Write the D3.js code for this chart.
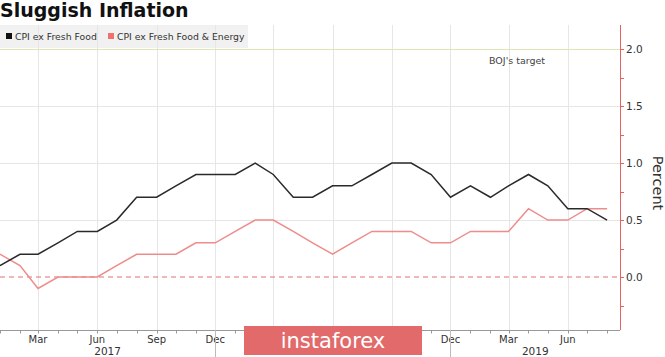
<!DOCTYPE html>
<html>
<head>
<meta charset="utf-8">
<script src="https://cdn.jsdelivr.net/npm/d3@7"></script>
<style>
  html, body { margin: 0; padding: 0; background: #fff; }
  svg { display: block; }
  text { font-family: "DejaVu Sans", sans-serif; }
</style>
</head>
<body>
<svg id="chart" width="665" height="357"></svg>
<script>
// ---- data ----
const months = [
  "2017-01","2017-02","2017-03","2017-04","2017-05","2017-06","2017-07","2017-08","2017-09","2017-10","2017-11","2017-12",
  "2018-01","2018-02","2018-03","2018-04","2018-05","2018-06","2018-07","2018-08","2018-09","2018-10","2018-11","2018-12",
  "2019-01","2019-02","2019-03","2019-04","2019-05","2019-06","2019-07","2019-08"
];
const cpiExFresh = [0.1,0.2,0.2,0.3,0.4,0.4,0.5,0.7,0.7,0.8,0.9,0.9,
                    0.9,1.0,0.9,0.7,0.7,0.8,0.8,0.9,1.0,1.0,0.9,0.7,
                    0.8,0.7,0.8,0.9,0.8,0.6,0.6,0.5];
const cpiExFreshEnergy = [0.2,0.1,-0.1,0.0,0.0,0.0,0.1,0.2,0.2,0.2,0.3,0.3,
                          0.4,0.5,0.5,0.4,0.3,0.2,0.3,0.4,0.4,0.4,0.3,0.3,
                          0.4,0.4,0.4,0.6,0.5,0.5,0.6,0.6];
const seriesNames = ["CPI ex Fresh Food", "CPI ex Fresh Food & Energy"];
const yTicks = [0.0, 0.5, 1.0, 1.5, 2.0];
const yMinorTicks = [-0.25, 0.25, 0.75, 1.25, 1.75];
const years = ["2017", "2018", "2019"];
const bojTarget = 2.0;
const titleText = "Sluggish Inflation";

(function () {
// ---- layout ----
const svg = d3.select("#chart");
const parse = d3.timeParse("%Y-%m");
const dates = months.map(parse);
const pL = 0, pR = 620, pT = 25, pB = 330;
const wmX0 = 244, wmX1 = 422; // watermark horizontal span

const x = d3.scaleTime()
  .domain([parse("2017-01"), new Date(2019, 7, 21)])
  .range([pL, pR]);
const y = d3.scaleLinear().domain([-0.465, 2.212]).range([pB, pT]);

// legend background
svg.append("rect").attr("x", 0).attr("y", 25).attr("width", 248).attr("height", 23).attr("fill", "#f1f1f1");

// vertical grid (quarterly)
const quarterTicks = x.ticks(d3.timeMonth.every(1)).filter(d => [2,5,8,11].includes(d.getMonth()));
svg.append("g").selectAll("line").data(quarterTicks).join("line")
  .attr("x1", d => Math.round(x(d)) + 0.5).attr("x2", d => Math.round(x(d)) + 0.5)
  .attr("y1", pT).attr("y2", pB)
  .attr("stroke", "#e6e6e6").attr("stroke-width", 1);

// horizontal grid
svg.append("g").selectAll("line").data([0.5, 1.0, 1.5]).join("line")
  .attr("x1", pL).attr("x2", pR)
  .attr("y1", d => Math.round(y(d)) + 0.5).attr("y2", d => Math.round(y(d)) + 0.5)
  .attr("stroke", "#e6e6e6").attr("stroke-width", 1);

// BOJ target line
svg.append("line")
  .attr("x1", pL).attr("x2", pR)
  .attr("y1", Math.round(y(bojTarget)) + 0.5).attr("y2", Math.round(y(bojTarget)) + 0.5)
  .attr("stroke", "#dfe6b4").attr("stroke-width", 1);
svg.append("text").attr("x", 489).attr("y", 64)
  .attr("font-size", 9.5).attr("fill", "#444").text("BOJ's target");

// zero dashed line
svg.append("line")
  .attr("x1", pL).attr("x2", pR)
  .attr("y1", y(0)).attr("y2", y(0))
  .attr("stroke", "#e07070").attr("stroke-width", 1.1).attr("stroke-dasharray", "5,4");

// legend
const legendItems = [
  {name: seriesNames[0], color: "#111", sx: 6, tx: 15},
  {name: seriesNames[1], color: "#f07070", sx: 108, tx: 117}
];
legendItems.forEach(it => {
  svg.append("rect").attr("x", it.sx).attr("y", 33).attr("width", 6).attr("height", 6).attr("fill", it.color);
  svg.append("text").attr("x", it.tx).attr("y", 40).attr("font-size", 9.3).attr("fill", "#333").text(it.name);
});

// title
svg.append("text").attr("x", 0).attr("y", 17)
  .attr("font-size", 19).attr("font-weight", "bold").attr("fill", "#111").text(titleText);

// lines
const line = d3.line().x((d, i) => x(dates[i])).y(d => y(d));
svg.append("path").datum(cpiExFreshEnergy).attr("d", line)
  .attr("fill", "none").attr("stroke", "#ee8c8c").attr("stroke-width", 1.5);
svg.append("path").datum(cpiExFresh).attr("d", line)
  .attr("fill", "none").attr("stroke", "#2a2a2a").attr("stroke-width", 1.5);

// x axis
svg.append("line").attr("x1", pL).attr("x2", pR).attr("y1", pB + 0.5).attr("y2", pB + 0.5)
  .attr("stroke", "#999");
const monthTicks = x.ticks(d3.timeMonth.every(1));
svg.append("g").selectAll("line").data(monthTicks).join("line")
  .attr("x1", d => Math.round(x(d)) + 0.5).attr("x2", d => Math.round(x(d)) + 0.5)
  .attr("y1", pB).attr("y2", pB + 3.5)
  .attr("stroke", "#999");
const fmt = d3.timeFormat("%b");
const hidden = px => px > wmX0 - 12 && px < wmX1 + 12;
svg.append("g").selectAll("text").data(quarterTicks.filter(d => !hidden(x(d)))).join("text")
  .attr("x", d => x(d)).attr("y", 343)
  .attr("text-anchor", "middle").attr("font-size", 10).attr("fill", "#333")
  .text(d => fmt(d));
// year separators (at Dec ticks)
const decTicks = quarterTicks.filter(d => d.getMonth() === 11);
svg.append("g").selectAll("line").data(decTicks).join("line")
  .attr("x1", d => Math.round(x(d)) + 0.5).attr("x2", d => Math.round(x(d)) + 0.5)
  .attr("y1", pB).attr("y2", 357)
  .attr("stroke", "#bbb");
const bounds = [pL, ...decTicks.map(d => x(d)), pR];
const yearPos = years.map((yr, i) => ({yr, px: (bounds[i] + bounds[i + 1]) / 2}));
svg.append("g").selectAll("text").data(yearPos.filter(d => !hidden(d.px))).join("text")
  .attr("x", d => d.px).attr("y", 355)
  .attr("text-anchor", "middle").attr("font-size", 10.5).attr("fill", "#333")
  .text(d => d.yr);

// y axis (right, red)
svg.append("line").attr("x1", pR + 0.5).attr("x2", pR + 0.5).attr("y1", pT).attr("y2", pB)
  .attr("stroke", "#e86060");
svg.append("g").selectAll("line").data(yTicks.concat(yMinorTicks)).join("line")
  .attr("x1", pR).attr("x2", pR + 4)
  .attr("y1", d => Math.round(y(d)) + 0.5).attr("y2", d => Math.round(y(d)) + 0.5)
  .attr("stroke", "#e86060");
svg.append("g").selectAll("text").data(yTicks).join("text")
  .attr("x", 626).attr("y", d => y(d) + 4)
  .attr("font-size", 10.5).attr("fill", "#333")
  .text(d => d3.format(".1f")(d));
svg.append("text").attr("transform", "translate(653,183) rotate(90)")
  .attr("text-anchor", "middle").attr("font-size", 14.5).attr("fill", "#333").text("Percent");

// watermark
svg.append("rect").attr("x", wmX0).attr("y", 326).attr("width", wmX1 - wmX0).attr("height", 29)
  .attr("fill", "#e26a6a");
svg.append("text").attr("x", (wmX0 + wmX1) / 2).attr("y", 348).attr("text-anchor", "middle")
  .attr("font-family", "Open Sans, sans-serif").attr("font-size", 21).attr("fill", "#fff")
  .text("instaforex");
})();
</script>
</body>
</html>
